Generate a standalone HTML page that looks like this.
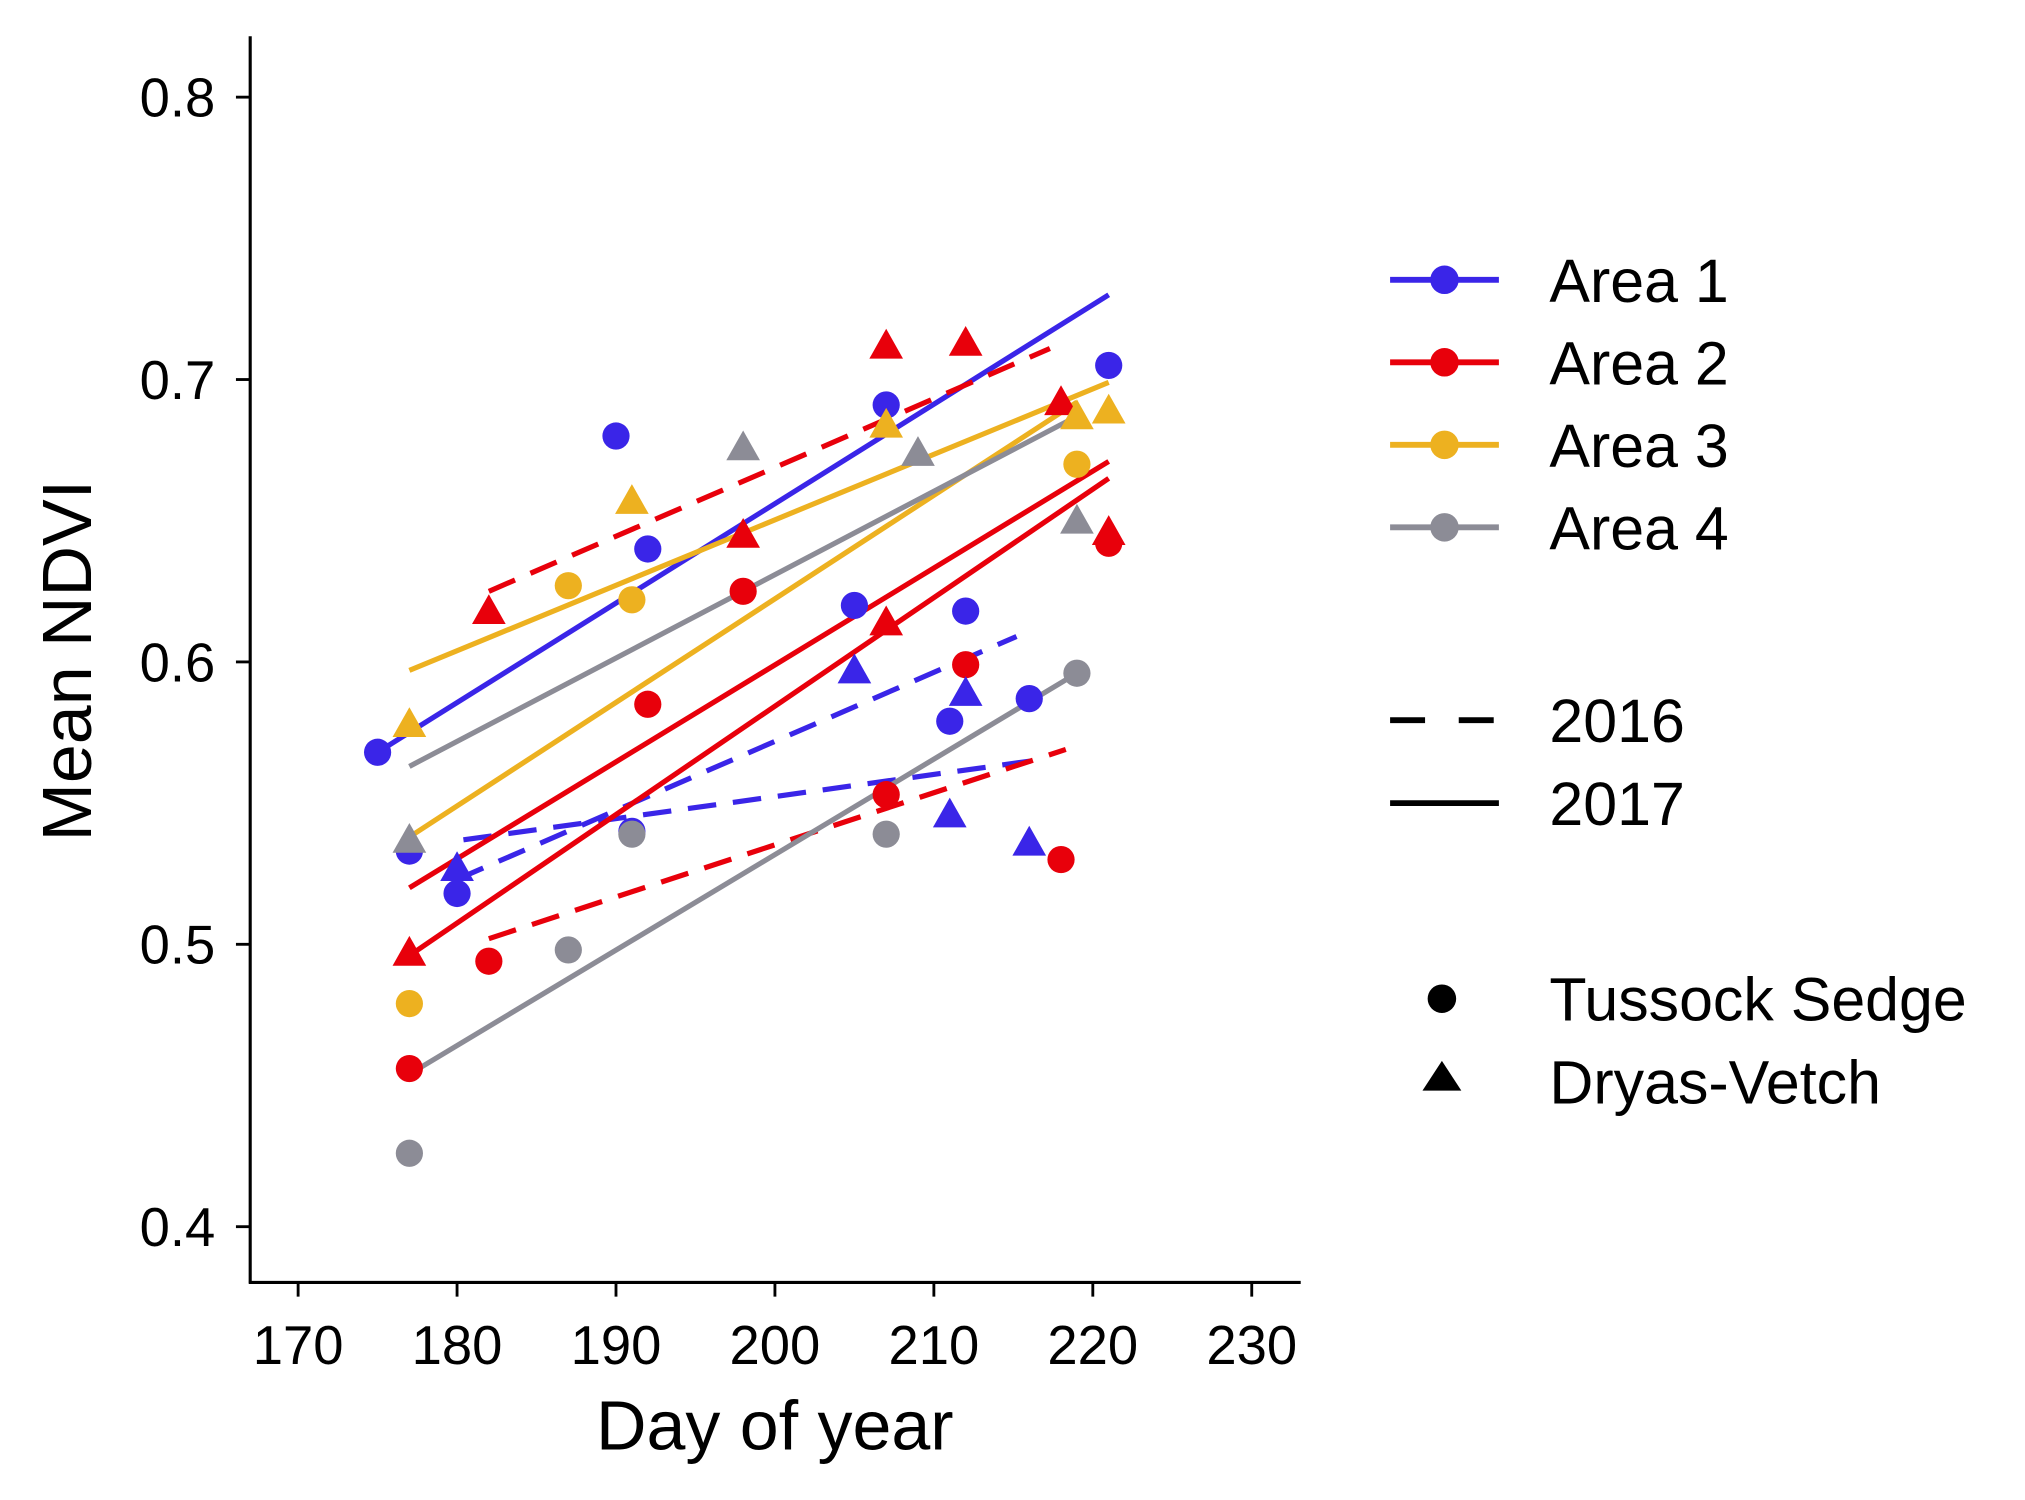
<!DOCTYPE html>
<html><head><meta charset="utf-8"><style>
html,body{margin:0;padding:0;background:#fff;}
svg{display:block;font-family:"Liberation Sans",Arial,sans-serif;}
</style></head><body>
<svg id="chart" width="2025" height="1500" viewBox="0 0 1563 1158" xmlns="http://www.w3.org/2000/svg">
<g id="axes"></g>
<g id="lines"></g>
<g id="points"></g>
<g id="legend"></g>
</svg>
<script>
const areaNames = ["Area 1","Area 2","Area 3","Area 4"];
const areaColors = ["#3a25e8","#e8000b","#edb120","#8c8c96"];
const xTicks = [170,180,190,200,210,220,230];
const yTicks = [0.4,0.5,0.6,0.7,0.8];
// points: [area index, day, ndvi]
const sedgePoints = [
 [0,175,0.568],[0,177,0.533],[0,180,0.518],[0,190,0.680],[0,191,0.540],[0,192,0.640],[0,205,0.620],[0,207,0.691],[0,211,0.579],[0,212,0.618],[0,216,0.587],[0,221,0.705],
 [1,177,0.456],[1,182,0.494],[1,192,0.585],[1,198,0.625],[1,207,0.553],[1,212,0.599],[1,218,0.530],[1,221,0.642],
 [2,177,0.479],[2,187,0.627],[2,191,0.622],[2,219,0.670],
 [3,177,0.426],[3,187,0.498],[3,191,0.539],[3,207,0.539],[3,219,0.596]
];
const dryasPoints = [
 [0,180,0.527],[0,205,0.597],[0,211,0.546],[0,212,0.589],[0,216,0.536],
 [1,177,0.497],[1,182,0.618],[1,198,0.645],[1,207,0.712],[1,207,0.614],[1,212,0.713],[1,218,0.692],[1,221,0.646],
 [2,177,0.578],[2,191,0.657],[2,207,0.684],[2,219,0.687],[2,221,0.689],
 [3,177,0.537],[3,198,0.676],[3,209,0.674],[3,219,0.650]
];
// fit lines: [area, year, day0, v0, day1, v1]
const fitLines = [
 [0,2017,175,0.568,221,0.730],
 [0,2016,180,0.523,215.2,0.609],
 [0,2016,180.4,0.537,216.2,0.565],
 [1,2016,182,0.625,217.3,0.711],
 [1,2016,182,0.502,218.3,0.569],
 [1,2017,177,0.520,221,0.671],
 [1,2017,177,0.496,221,0.665],
 [2,2017,177,0.597,221,0.699],
 [2,2017,177,0.538,219,0.692],
 [3,2017,177,0.563,219,0.687],
 [3,2017,177,0.454,219,0.596]
];
const NS="http://www.w3.org/2000/svg";
const X = d => 230 + (d-170)*12.27;
const Y = v => 75 + (0.8-v)*2180;
function mk(tag, attrs, parent, text){
  const e=document.createElementNS(NS,tag);
  for(const k in attrs) e.setAttribute(k,attrs[k]);
  if(text!==undefined) e.textContent=text;
  parent.appendChild(e); return e;
}
const axes=document.getElementById('axes');
let e;
e=mk('line',{x1:193,y1:28,x2:193,y2:991,stroke:'#000','stroke-width':2.4},axes);


e=mk('line',{x1:192,y1:990,x2:1004,y2:990,stroke:'#000','stroke-width':2.4},axes);


xTicks.forEach(t=>{
  const l=mk('line',{x1:X(t),y1:990,x2:X(t),y2:1001,stroke:'#000','stroke-width':2.2},axes);
  
  
  const tx=mk('text',{x:X(t),y:1053,'font-size':42,'text-anchor':'middle'},axes,String(t));
  
  
});
yTicks.forEach(t=>{
  const l=mk('line',{x1:182,y1:Y(t),x2:193,y2:Y(t),stroke:'#000','stroke-width':2.2},axes);
  
  
  const tx=mk('text',{x:166,y:Y(t)+15,'font-size':42,'text-anchor':'end'},axes,t.toFixed(1));
  
  
});
e=mk('text',{x:598,y:1119,'font-size':54,'text-anchor':'middle'},axes,'Day of year');


e=mk('text',{x:0,y:0,'font-size':54,'text-anchor':'middle',transform:'translate(70,510) rotate(-90)'},axes,'Mean NDVI');



const lines=document.getElementById('lines');
fitLines.forEach(f=>{
  const a={x1:X(f[2]),y1:Y(f[3]),x2:X(f[4]),y2:Y(f[5]),stroke:areaColors[f[0]],'stroke-width':4};
  if(f[1]===2016) a['stroke-dasharray']='22 13';
  const l=mk('line',a,lines);
  
  
});
const pts=document.getElementById('points');
sedgePoints.forEach(p=>{
  const c=mk('circle',{cx:X(p[1]),cy:Y(p[2]),r:10.5,fill:areaColors[p[0]]},pts);
  
  
});
dryasPoints.forEach(p=>{
  const x=X(p[1]),y=Y(p[2]);
  const t=mk('polygon',{points:`${x},${y-13} ${x-13},${y+10} ${x+13},${y+10}`,fill:areaColors[p[0]]},pts);
  
  
});
const lg=document.getElementById('legend');
areaNames.forEach((n,i)=>{
  const y=216+i*63.7;
  const l=mk('line',{x1:1073,y1:y,x2:1157,y2:y,stroke:areaColors[i],'stroke-width':4.5},lg);
  
  
  const c=mk('circle',{cx:1115,cy:y,r:11,fill:areaColors[i]},lg);
  
  
  const t=mk('text',{x:1196,y:y+17,'font-size':47},lg,n);
  
  
});
e=mk('line',{x1:1073,y1:556,x2:1157,y2:556,stroke:'#000','stroke-width':4.5,'stroke-dasharray':'27 26'},lg);


e=mk('text',{x:1196,y:573,'font-size':47},lg,'2016');


e=mk('line',{x1:1073,y1:620,x2:1157,y2:620,stroke:'#000','stroke-width':4.5},lg);


e=mk('text',{x:1196,y:637,'font-size':47},lg,'2017');


e=mk('circle',{cx:1113,cy:771,r:11,fill:'#000'},lg);


e=mk('text',{x:1196,y:788,'font-size':47},lg,'Tussock Sedge');


e=mk('polygon',{points:'1113,819 1098,842 1128,842',fill:'#000'},lg);


e=mk('text',{x:1196,y:852,'font-size':47},lg,'Dryas-Vetch');


</script>
</body></html>
